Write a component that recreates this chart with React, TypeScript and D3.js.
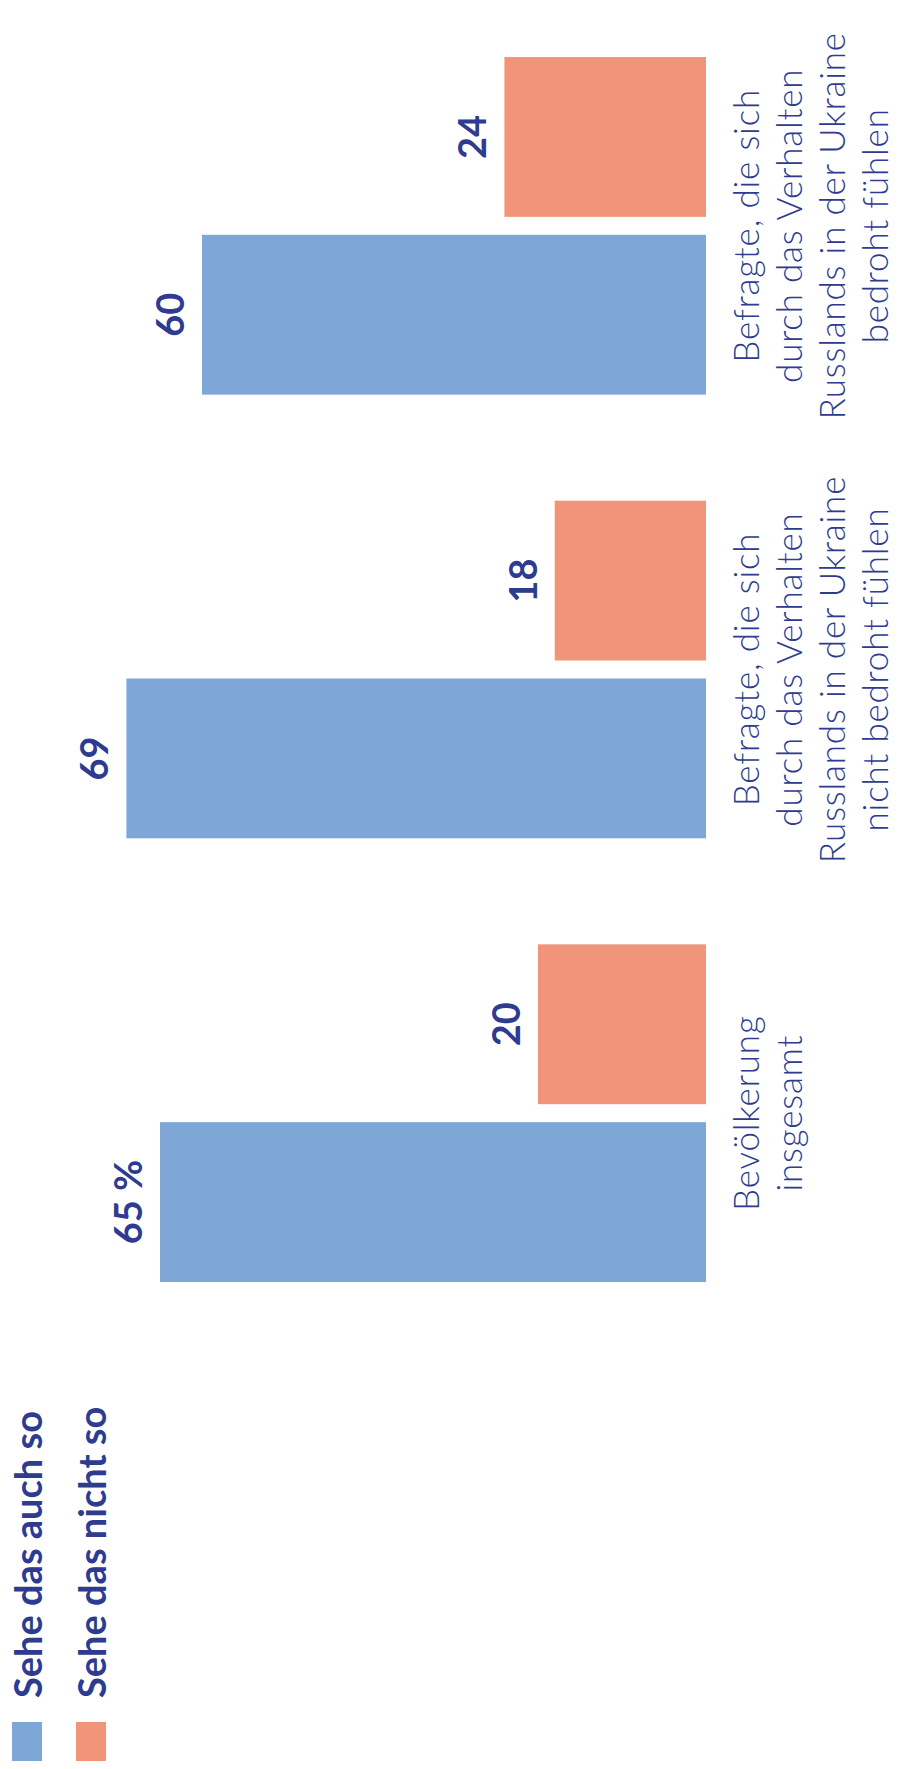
import React from "react";
import * as d3 from "d3";

// ── Data ──────────────────────────────────────────────────────────────────────

const categories = ["gesamt", "nichtBedroht", "bedroht"];
const categoryLines: string[][] = [
  ["Bevölkerung", "insgesamt"],
  ["Befragte, die sich", "durch das Verhalten", "Russlands in der Ukraine", "nicht bedroht fühlen"],
  ["Befragte, die sich", "durch das Verhalten", "Russlands in der Ukraine", "bedroht fühlen"],
];
const seriesKeys = ["auch", "nicht"];
const seriesNames = ["Sehe das auch so", "Sehe das nicht so"];
const agreeValues = [65, 69, 60];
const disagreeValues = [20, 18, 24];

// ── Layout / style ────────────────────────────────────────────────────────────

const W = 899;
const H = 1769;
const BASE_X = 706;
const COLORS = ["#7ea7d8", "#f0957a"];
const TEXT = "#2e3b8e";
const FONT = "Lato, 'Open Sans', sans-serif";

export default function App() {
  // category axis runs bottom → top (chart is rotated)
  const y0 = d3.scaleBand<string>().domain(categories).range([1282, 57]).paddingInner(0.239);
  const y1 = d3
    .scaleBand<string>()
    .domain(seriesKeys)
    .range([y0.bandwidth(), 0])
    .paddingInner(0.101);
  const x = d3.scaleLinear().domain([0, 100]).range([BASE_X, BASE_X - 840]);

  const series = [agreeValues, disagreeValues];

  return (
    <svg
      width={W}
      height={H}
      style={{ position: "absolute", left: 0, top: 0, background: "#fff" }}
      fontFamily={FONT}
    >
      {categories.map((cat, ci) => {
        const gy = y0(cat) ?? 0;
        return (
          <g key={cat}>
            {seriesKeys.map((s, si) => {
              const v = series[si][ci];
              const by = gy + (y1(s) ?? 0);
              const bh = y1.bandwidth();
              const label = ci === 0 && si === 0 ? `${v} %` : String(v);
              return (
                <g key={s}>
                  <rect x={x(v)} y={by} width={BASE_X - x(v)} height={bh} fill={COLORS[si]} />
                  <text
                    transform={`translate(${x(v) - 18},${by + bh / 2}) rotate(-90)`}
                    textAnchor="middle"
                    fontSize={38}
                    fontWeight={700}
                    fill={TEXT}
                  >
                    {label}
                  </text>
                </g>
              );
            })}
            <text
              transform={`translate(${BASE_X + 53},${gy + y0.bandwidth() / 2}) rotate(-90)`}
              textAnchor="middle"
              fontSize={35}
              fontWeight={300}
              letterSpacing={0.8}
              fill={TEXT}
            >
              {categoryLines[ci].map((line, li) => (
                <tspan key={li} x={0} y={li * 43}>
                  {line}
                </tspan>
              ))}
            </text>
          </g>
        );
      })}

      {/* Legend */}
      {seriesNames.map((name, i) => {
        const lx = 12 + i * 64;
        return (
          <g key={name}>
            <rect x={lx} y={1722} width={30} height={39} fill={COLORS[i]} />
            <text
              transform={`translate(${lx + 30},1698) rotate(-90)`}
              textAnchor="start"
              fontSize={38}
              fontWeight={700}
              fill={TEXT}
            >
              {name}
            </text>
          </g>
        );
      })}
    </svg>
  );
}
